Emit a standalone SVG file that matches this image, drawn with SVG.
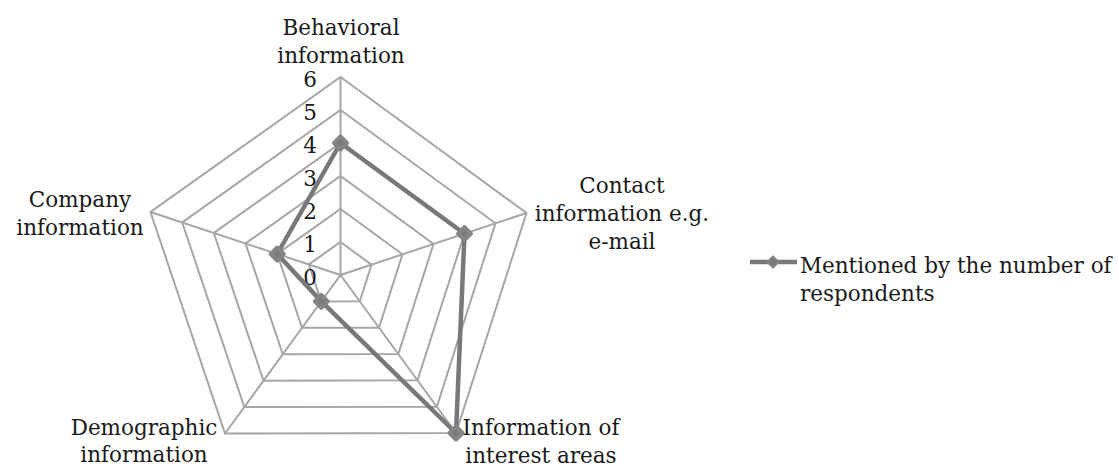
<svg xmlns="http://www.w3.org/2000/svg" width="1119" height="469" viewBox="0 0 1119 469">
  <style>
    .grid { fill: none; stroke: #a6a6a6; stroke-width: 2; }
    .series { fill: none; stroke: #787878; stroke-width: 4.5; stroke-linejoin: round; }
    .mark { fill: #7a7a7a; stroke: #858585; stroke-width: 4; stroke-linejoin: round; }
    text { font-family: "DejaVu Serif", "Liberation Serif", serif; font-size: 21.5px; fill: #1a1a1a; }
    .cat { text-anchor: middle; }
    .tick { text-anchor: end; }
  </style>
  <defs>
    <polygon id="diamond" points="0,-6.5 6.5,0 0,6.5 -6.5,0" class="mark"/>
  </defs>
  <rect width="1119" height="469" fill="#ffffff"/>

  <!-- radar grid: spokes and level rings 1..6 -->
  <g id="grid">
    <polygon class="grid" points="340.5,242 371.5,264.7 359.8,301.3 321.3,301.4 308.8,264.5"/>
    <polygon class="grid" points="340.5,209 402.5,254.3 379,327.7 302,327.8 277.2,254"/>
    <polygon class="grid" points="340.5,176 433.5,244 398.3,354 282.8,354.3 245.5,243.5"/>
    <polygon class="grid" points="340.5,143 464.5,233.7 417.5,380.3 263.5,380.7 213.8,233"/>
    <polygon class="grid" points="340.5,110 495.5,223.3 436.8,406.7 244.3,407.1 182.2,222.5"/>
    <polygon class="grid" points="340.5,77 526.5,213 456,433 225,433.5 150.5,212"/>
    <path class="grid" d="M340.5,275 L340.5,77 M340.5,275 L526.5,213 M340.5,275 L456,433 M340.5,275 L225,433.5 M340.5,275 L150.5,212"/>
  </g>

  <!-- value axis ticks -->
  <g id="axis-labels">
    <text class="tick" x="317" y="87">6</text>
    <text class="tick" x="317" y="120">5</text>
    <text class="tick" x="317" y="153">4</text>
    <text class="tick" x="317" y="186">3</text>
    <text class="tick" x="317" y="219">2</text>
    <text class="tick" x="317" y="252">1</text>
    <text class="tick" x="317" y="285">0</text>
  </g>

  <!-- data series -->
  <g id="connectors">
    <polygon class="series" points="340.5,143 464.5,233.7 456,433 321.3,301.4 277.2,254"/>
  </g>
  <g id="markers">
    <use href="#diamond" x="340.5" y="143"/>
    <use href="#diamond" x="464.5" y="233.7"/>
    <use href="#diamond" x="456" y="433"/>
    <use href="#diamond" x="321.3" y="301.4"/>
    <use href="#diamond" x="277.2" y="254"/>
  </g>

  <!-- category labels -->
  <g id="node-behavioral">
    <text class="cat" x="341" y="35">Behavioral</text>
    <text class="cat" x="341" y="63">information</text>
  </g>
  <g id="node-contact">
    <text class="cat" x="622" y="193">Contact</text>
    <text class="cat" x="622" y="221">information e.g.</text>
    <text class="cat" x="622" y="249">e-mail</text>
  </g>
  <g id="node-interest">
    <text class="cat" x="541" y="435">Information of</text>
    <text class="cat" x="541" y="463">interest areas</text>
  </g>
  <g id="node-demographic">
    <text class="cat" x="144" y="435">Demographic</text>
    <text class="cat" x="144" y="462">information</text>
  </g>
  <g id="node-company">
    <text class="cat" x="80" y="207">Company</text>
    <text class="cat" x="80" y="235">information</text>
  </g>

  <!-- legend -->
  <g id="legend">
    <line x1="750" y1="262" x2="797" y2="262" stroke="#787878" stroke-width="4.5"/>
    <polygon points="773,-5.5 778.5,0 773,5.5 767.5,0" transform="translate(0,262)" fill="#7a7a7a" stroke="#858585" stroke-width="2" stroke-linejoin="round"/>
    <text x="800" y="273">Mentioned by the number of</text>
    <text x="800" y="301">respondents</text>
  </g>
</svg>
